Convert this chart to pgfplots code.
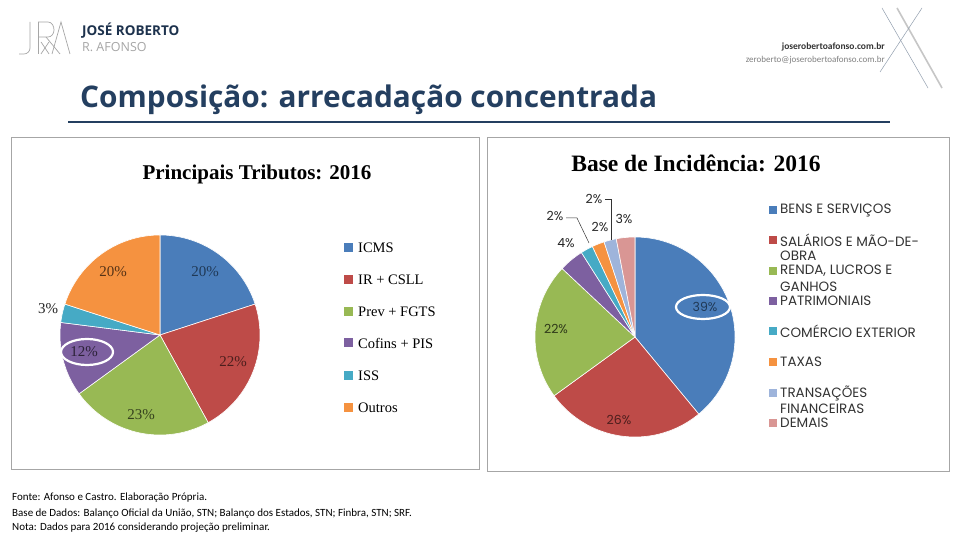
\documentclass[border=0pt]{standalone}
\usepackage{pgfplots}
\pgfplotsset{compat=1.18}
\usepackage{fontspec}
\setmainfont{Liberation Serif}
\newfontfamily\titlefont{Open Sans}
\newfontfamily\gothic{Poppins}
\newfontfamily\calib{Carlito}
\newfontfamily\logofont{Open Sans}
\definecolor{cBlue}{HTML}{4A7DBA}
\definecolor{cRed}{HTML}{BE4B48}
\definecolor{cGreen}{HTML}{98B954}
\definecolor{cPurple}{HTML}{7D60A0}
\definecolor{cAqua}{HTML}{46AAC5}
\definecolor{cOrange}{HTML}{F59240}
\definecolor{cLBlue}{HTML}{9EB4DB}
\definecolor{cPink}{HTML}{D99694}
\definecolor{navy}{HTML}{243F60}
\definecolor{frame}{HTML}{A6A6A6}
% slice: start (percent), value (percent), colour
\newcommand{\slice}[3]{%
  \pgfmathsetmacro\sa{90-3.6*(#1+#2)}%
  \pgfmathsetmacro\sb{90-3.6*(#1)}%
  \addplot[fill=#3, draw=white, line width=0.6pt, mark=none, domain=\sa:\sb, samples=60, variable=\t]
    ({cos(\t)},{sin(\t)}) -- (axis cs:0,0) -- cycle;}
\pgfplotsset{pie/.style={scale only axis, width=200pt, height=200pt,
  xmin=-1,xmax=1,ymin=-1,ymax=1, hide axis, clip=false, anchor=center}}
\begin{document}
\begin{tikzpicture}[x=1pt,y=1pt]
\path[fill=white] (0,0) rectangle (960,540);
% ---- header
\begin{scope}[gray!70, line width=0.7pt]
\draw (30,518) -- (30,492) to[out=-90,in=0] (24,486) -- (19,486);
\draw (38,518) -- (38,486);
\draw (38,518) -- (48,518) to[out=0,in=90] (54,510) to[out=-90,in=0] (48,503) -- (38,503);
\draw (46,503) -- (60,486);
\draw (52,486) -- (61,518) -- (70,486);
\draw (41,498) -- (49,486); \draw (49,498) -- (41,486);
\end{scope}
\node[anchor=west, inner sep=0pt, text=navy!80!black] at (82,509) {\logofont\bfseries\fontsize{13.5}{15}\selectfont JOSÉ ROBERTO};
\node[anchor=west, inner sep=0pt, text=gray!70] at (82,493) {\logofont\fontsize{12.5}{14}\selectfont R.\ AFONSO};
\node[anchor=east, inner sep=0pt, text=black!80] at (885,493) {\calib\bfseries\fontsize{9.5}{11}\selectfont joserobertoafonso.com.br};
\node[anchor=east, inner sep=0pt, text=gray] at (885,480) {\calib\fontsize{9}{11}\selectfont zeroberto@joserobertoafonso.com.br};
\draw[navy!50, line width=0.5pt] (882,532) -- (928,452);
\draw[gray!45, line width=1.6pt] (897,532) -- (942,452);
\draw[navy!50, line width=0.5pt] (922,532) -- (880,468);
% ---- title
\node[anchor=base west, inner sep=0pt, text=navy] at (80,432) {\titlefont\bfseries\fontsize{29.8}{34}\selectfont Composição: arrecadação concentrada};
\draw[navy, line width=2.5pt] (68,418) -- (890,418);
% ---- frames
\draw[frame, line width=1pt] (11,402) rectangle (479,70);
\draw[frame, line width=1pt] (487,402) rectangle (949,68);
% ---- left chart
\node[inner sep=0pt] at (257,366) {\bfseries\fontsize{21}{23}\selectfont Principais Tributos: 2016};
\begin{axis}[pie, at={(160,205)}]
\slice{0}{20}{cBlue}
\slice{20}{22}{cRed}
\slice{42}{23}{cGreen}
\slice{65}{12}{cPurple}
\slice{77}{3}{cAqua}
\slice{80}{20}{cOrange}
\end{axis}
\begin{scope}[every node/.style={inner sep=0pt, font=\fontsize{15}{16}\selectfont}]
\node[text=navy!90!black] at (205,268) {20\%};
\node[text=cRed!40!black] at (233,178) {22\%};
\node[text=cGreen!35!black] at (141,125) {23\%};
\node[text=cPurple!35!black] at (84,188) {12\%};
\node[text=black!85] at (48,231) {3\%};
\node[text=cOrange!35!black] at (113,268) {20\%};
\end{scope}
\draw[white, line width=2.2pt] (87,188) ellipse (26 and 13);
\begin{scope}[every node/.style={anchor=west, inner sep=0pt, font=\fontsize{14.5}{16}\selectfont}]
\fill[cBlue] (344,288) rectangle (353,297); \node at (358,292) {ICMS};
\fill[cRed] (344,256) rectangle (353,265); \node at (358,260) {IR + CSLL};
\fill[cGreen] (344,224) rectangle (353,233); \node at (358,228) {Prev + FGTS};
\fill[cPurple] (344,193) rectangle (353,202); \node at (358,197) {Cofins + PIS};
\fill[cAqua] (344,160) rectangle (353,169); \node at (358,164) {ISS};
\fill[cOrange] (344,128) rectangle (353,137); \node at (358,132) {Outros};
\end{scope}
% ---- right chart
\node[inner sep=0pt] at (696,377) {\bfseries\fontsize{23.5}{26}\selectfont Base de Incidência: 2016};
\begin{axis}[pie, at={(635,203)}]
\slice{0}{39}{cBlue}
\slice{39}{26}{cRed}
\slice{65}{22}{cGreen}
\slice{87}{4}{cPurple}
\slice{91}{2}{cAqua}
\slice{93}{2}{cOrange}
\slice{95}{2}{cLBlue}
\slice{97}{3}{cPink}
\end{axis}
\begin{scope}[every node/.style={inner sep=0pt, font=\gothic\fontsize{12.5}{14}\selectfont}]
\node[text=navy!90!black] at (705,233) {39\%};
\node[text=cRed!40!black] at (619,120) {26\%};
\node[text=cGreen!30!black] at (556,211) {22\%};
\node[text=black!85] at (566,297) {4\%};
\node[text=black!85] at (555,324) {2\%};
\node[text=black!85] at (594,341) {2\%};
\node[text=black!85] at (600,313) {2\%};
\node[text=black!85] at (624,321) {3\%};
\end{scope}
\draw[black!80, line width=0.5pt] (566,322) -- (577,322) -- (589,297);
\draw[black!80, line width=0.5pt] (605,341) -- (611,341) -- (611,300);
\draw[white, line width=2.2pt] (703,233) ellipse (27 and 12);
\begin{scope}[every node/.style={anchor=west, inner sep=0pt, font=\gothic\fontsize{13.5}{15}\selectfont, text=black!80}]
\fill[cBlue] (769,326) rectangle (777,334); \node at (780,330) {BENS E SERVIÇOS};
\fill[cRed] (769,296) rectangle (777,304); \node at (780,300) {SALÁRIOS E MÃO-DE-};
\node at (780,284) {OBRA};
\fill[cGreen] (769,265) rectangle (777,273); \node at (780,269) {RENDA, LUCROS E};
\node at (780,253) {GANHOS};
\fill[cPurple] (769,235) rectangle (777,243); \node at (780,239) {PATRIMONIAIS};
\fill[cAqua] (769,205) rectangle (777,213); \node at (780,209) {COMÉRCIO EXTERIOR};
\fill[cOrange] (769,174) rectangle (777,182); \node at (780,178) {TAXAS};
\fill[cLBlue] (769,143) rectangle (777,151); \node at (780,147) {TRANSAÇÕES};
\node at (780,131) {FINANCEIRAS};
\fill[cPink] (769,113) rectangle (777,121); \node at (780,117) {DEMAIS};
\end{scope}
% ---- footnote
\begin{scope}[every node/.style={anchor=west, inner sep=0pt, font=\calib\fontsize{11}{12}\selectfont}]
\node at (12,42) {Fonte: Afonso e Castro. Elaboração Própria.};
\node at (12,26) {Base de Dados: Balanço Oficial da União, STN; Balanço dos Estados, STN; Finbra, STN; SRF.};
\node at (12,12) {Nota: Dados para 2016 considerando projeção preliminar.};
\end{scope}
\end{tikzpicture}
\end{document}
